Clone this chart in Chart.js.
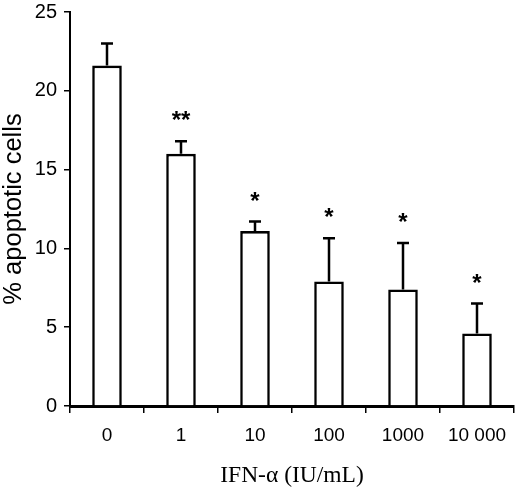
<!DOCTYPE html>
<html>
<head>
<meta charset="utf-8">
<script src="https://cdn.jsdelivr.net/npm/chart.js@4.4.1/dist/chart.umd.min.js"></script>
<style>
  html, body { margin: 0; padding: 0; background: #fff; }
</style>
</head>
<body>
<canvas id="myChart" width="520" height="496"></canvas>
<script>
  var doses = ['0', '1', '10', '100', '1000', '10 000'];
  var apoptotic = [21.6, 16.0, 11.1, 7.9, 7.4, 4.6];
  var sd = [1.4, 0.8, 0.6, 2.75, 2.95, 1.9];
  var stars = ['', '**', '*', '*', '*', '*'];

  // upper error bars + significance marks
  var errorBars = {
    id: 'errorBars',
    afterDatasetsDraw: function (chart) {
      var ctx = chart.ctx;
      var y = chart.scales.y;
      var meta = chart.getDatasetMeta(0);
      ctx.save();
      ctx.strokeStyle = '#000';
      ctx.fillStyle = '#000';
      ctx.lineWidth = 2.5;
      meta.data.forEach(function (bar, i) {
        var top = y.getPixelForValue(apoptotic[i]);
        var errY = y.getPixelForValue(apoptotic[i] + sd[i]);
        ctx.beginPath();
        ctx.moveTo(bar.x, top);
        ctx.lineTo(bar.x, errY);
        ctx.moveTo(bar.x - 6, errY);
        ctx.lineTo(bar.x + 6, errY);
        ctx.stroke();
        if (stars[i]) {
          ctx.font = 'bold 24px "Liberation Sans", Arial, sans-serif';
          ctx.textAlign = 'center';
          ctx.textBaseline = 'alphabetic';
          ctx.fillText(stars[i], bar.x, errY - 13);
        }
      });
      ctx.restore();
    }
  };

  var ctx = document.getElementById('myChart');
  var myChart = new Chart(ctx, {
    type: 'bar',
    data: {
      labels: doses,
      datasets: [{
        data: apoptotic,
        backgroundColor: '#fff',
        borderColor: '#000',
        borderWidth: 2.6,
        categoryPercentage: 1,
        barPercentage: 0.4
      }]
    },
    plugins: [errorBars],
    options: {
      responsive: false,
      animation: false,
      layout: { padding: { top: 12, right: 6, left: 0, bottom: 0 } },
      plugins: {
        legend: { display: false },
        tooltip: { enabled: false }
      },
      scales: {
        x: {
          afterFit: function (scale) { scale.height = 90; },
          grid: { offset: true, drawOnChartArea: false, tickLength: 7, color: '#000', lineWidth: 1.5 },
          border: { display: true, color: '#000', width: 3 },
          ticks: {
            color: '#000',
            padding: 11,
            font: { family: '"Liberation Sans", Arial, sans-serif', size: 19 }
          },
          title: {
            display: true,
            text: 'IFN-α (IU/mL)',
            color: '#000',
            font: { family: '"Liberation Serif", "Times New Roman", serif', size: 23.5, lineHeight: 1 },
            padding: { top: 0, bottom: 8 }
          }
        },
        y: {
          min: 0,
          max: 25,
          afterFit: function (scale) {
            scale.width = 70;
            scale.paddingTop = 11;
            scale.paddingBottom = 11;
          },
          grid: { drawOnChartArea: false, tickLength: 6, color: '#000', lineWidth: 1.5 },
          border: { display: true, color: '#000', width: 2 },
          ticks: {
            stepSize: 5,
            color: '#000',
            padding: 7,
            font: { family: '"Liberation Sans", Arial, sans-serif', size: 20 }
          },
          title: {
            display: true,
            text: '% apoptotic cells',
            color: '#000',
            font: { family: '"Liberation Sans", Arial, sans-serif', size: 25.5, lineHeight: 1 },
            padding: { top: 1, bottom: 0 }
          }
        }
      }
    }
  });
</script>
</body>
</html>
